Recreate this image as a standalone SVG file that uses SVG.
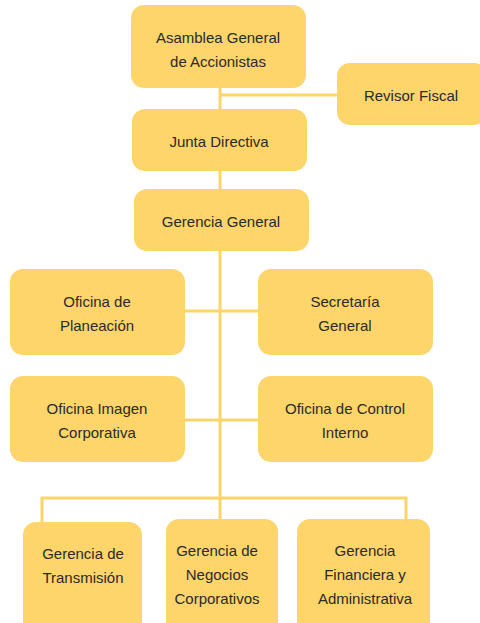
<svg xmlns="http://www.w3.org/2000/svg" width="480" height="623" viewBox="0 0 480 623">
<style>
.box{fill:#FDD56B}
.ln{stroke:#FDD56B;stroke-width:3;fill:none}
text{font-family:"Liberation Sans",Arial,sans-serif;font-size:15px;fill:#2a2a2a;text-anchor:middle}
</style>
<rect width="480" height="623" fill="#fff"/>
<g id="connectors">
<path class="ln" d="M220 88V109M220 95H337M220 171V189M220 251V519M185 311H258M185 420H258M42 522V498H406V519"/>
</g>
<g id="asamblea"><rect class="box" x="131" y="5" width="175" height="83" rx="13"/><text x="218" y="43">Asamblea General</text><text x="218" y="67">de Accionistas</text></g>
<g id="revisor"><rect class="box" x="337" y="63" width="150" height="62" rx="13"/><text x="411" y="101">Revisor Fiscal</text></g>
<g id="junta"><rect class="box" x="132" y="109" width="175" height="62" rx="13"/><text x="219" y="147">Junta Directiva</text></g>
<g id="gerencia-general"><rect class="box" x="134" y="189" width="175" height="62" rx="13"/><text x="221" y="227">Gerencia General</text></g>
<g id="planeacion"><rect class="box" x="10" y="269" width="175" height="86" rx="13"/><text x="97" y="307">Oficina de</text><text x="97" y="331">Planeación</text></g>
<g id="secretaria"><rect class="box" x="258" y="269" width="175" height="86" rx="13"/><text x="345" y="307">Secretaría</text><text x="345" y="331">General</text></g>
<g id="imagen"><rect class="box" x="10" y="376" width="175" height="86" rx="13"/><text x="97" y="414">Oficina Imagen</text><text x="97" y="438">Corporativa</text></g>
<g id="control"><rect class="box" x="258" y="376" width="175" height="86" rx="13"/><text x="345" y="414">Oficina de Control</text><text x="345" y="438">Interno</text></g>
<g id="transmision"><rect class="box" x="23" y="522" width="119" height="120" rx="13"/><text x="83" y="559">Gerencia de</text><text x="83" y="583">Transmisión</text></g>
<g id="negocios"><rect class="box" x="166" y="519" width="112" height="120" rx="13"/><text x="217" y="556">Gerencia de</text><text x="217" y="580">Negocios</text><text x="217" y="604">Corporativos</text></g>
<g id="financiera"><rect class="box" x="297" y="519" width="133" height="120" rx="13"/><text x="365" y="556">Gerencia</text><text x="365" y="580">Financiera y</text><text x="365" y="604">Administrativa</text></g>
</svg>
